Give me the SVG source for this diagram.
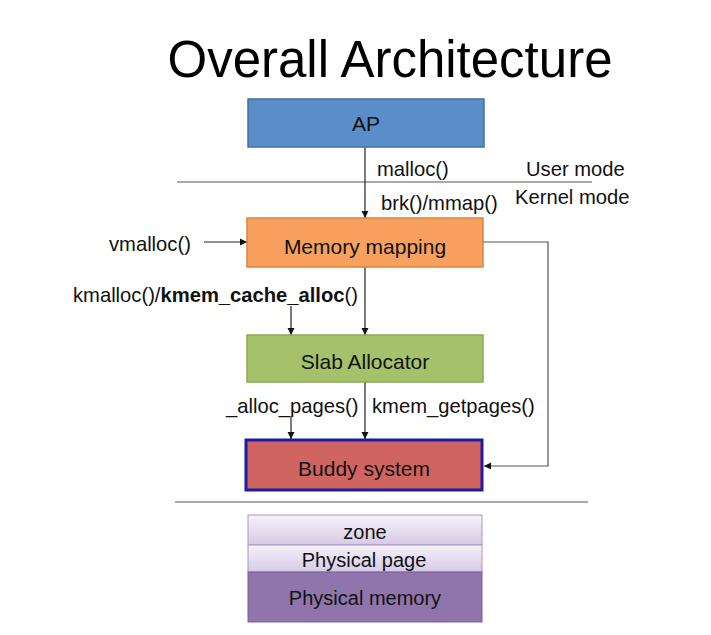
<svg xmlns="http://www.w3.org/2000/svg" width="711" height="635" viewBox="0 0 711 635">
<defs>
<style>
text{font-family:"Liberation Sans",Arial,sans-serif;fill:#111}
.lbl{font-size:20.2px}
.box{font-size:21px;text-anchor:middle}
.c{stroke:#222;stroke-width:1.2;fill:none}
.sep{stroke:#aaa;stroke-width:2}
</style>
<marker id="ah" markerWidth="8" markerHeight="8" refX="7" refY="4" orient="auto" markerUnits="userSpaceOnUse">
<path d="M0,0.5 L7,4 L0,7.5 Z" fill="#111"/>
</marker>
<linearGradient id="lav" x1="0" y1="0" x2="0" y2="1">
<stop offset="0" stop-color="#f6f2fa"/>
<stop offset="1" stop-color="#d6c9e6"/>
</linearGradient>
</defs>
<rect width="711" height="635" fill="#fff"/>
<text x="390" y="77" font-size="51" text-anchor="middle" style="fill:#000">Overall Architecture</text>

<line class="sep" x1="177" y1="182" x2="592" y2="182"/>
<line class="sep" x1="175" y1="502" x2="588" y2="502"/>
<text class="lbl" x="377" y="176">malloc()</text>
<text class="lbl" x="526" y="176">User mode</text>
<text class="lbl" x="381" y="210">brk()/mmap()</text>
<text class="lbl" x="515" y="204">Kernel mode</text>
<text class="lbl" x="109" y="251">vmalloc()</text>
<text class="lbl" x="73" y="302">kmalloc()/<tspan font-weight="bold">kmem_cache_alloc</tspan>()</text>
<text class="lbl" x="226" y="413">_alloc_pages()</text>
<text class="lbl" x="372" y="413">kmem_getpages()</text>

<g id="connectors">
<line class="c" x1="365" y1="146" x2="365" y2="218" marker-end="url(#ah)"/>
<line class="c" x1="204" y1="242" x2="247" y2="242" marker-end="url(#ah)"/>
<line class="c" x1="365" y1="267" x2="365" y2="335" marker-end="url(#ah)"/>
<line class="c" x1="291" y1="306" x2="291" y2="335" marker-end="url(#ah)"/>
<line class="c" x1="365" y1="382" x2="365" y2="439" marker-end="url(#ah)"/>
<line class="c" x1="291" y1="416" x2="291" y2="439" marker-end="url(#ah)"/>
<polyline class="c" style="stroke:#555" points="483,242 548,242 548,466 484,466" marker-end="url(#ah)"/>
</g>

<g id="ap">
<rect x="248" y="99" width="236" height="48" fill="#5b8ec9" stroke="#41719c" stroke-width="1.5"/>
<text class="box" x="366" y="131">AP</text>
</g>
<g id="memory-mapping">
<rect x="247" y="218" width="236" height="49" fill="#f8a15e" stroke="#d8843f" stroke-width="1.5"/>
<text class="box" x="365" y="254">Memory mapping</text>
</g>
<g id="slab-allocator">
<rect x="247" y="335" width="236" height="47" fill="#a5c26a" stroke="#8eaa56" stroke-width="1.5"/>
<text class="box" x="365" y="369">Slab Allocator</text>
</g>
<g id="buddy-system">
<rect x="246" y="440" width="236" height="50" fill="#cf6461" stroke="#1c1ca6" stroke-width="3"/>
<text class="box" x="364" y="476">Buddy system</text>
</g>
<g id="zone">
<rect x="248" y="515" width="234" height="30" fill="url(#lav)" stroke="#a897bf" stroke-width="1"/>
<text class="box" x="365" y="539" style="font-size:20px">zone</text>
</g>
<g id="physical-page">
<rect x="248" y="545" width="234" height="27" fill="url(#lav)" stroke="#a897bf" stroke-width="1"/>
<text class="box" x="364" y="567" style="font-size:20px">Physical page</text>
</g>
<g id="physical-memory">
<rect x="248" y="572" width="234" height="50" fill="#8f75ab" stroke="#76609a" stroke-width="1"/>
<text class="box" x="365" y="605" style="font-size:20px">Physical memory</text>
</g>
</svg>
